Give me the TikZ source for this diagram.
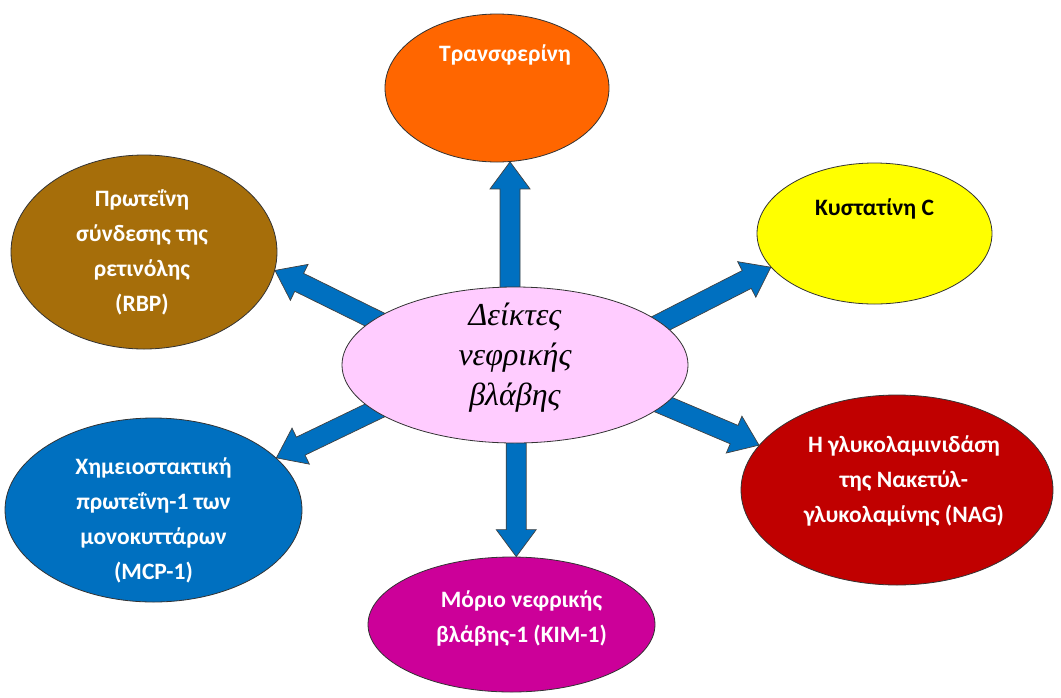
\documentclass[tikz,border=0pt]{standalone}
\usepackage{fontspec}
\setmainfont{Carlito}
\newfontfamily\ctrfont{Liberation Serif}
\usetikzlibrary{shapes.geometric,calc,backgrounds}
\definecolor{orgc}{HTML}{FF6600}
\definecolor{yelc}{HTML}{FFFF00}
\definecolor{redc}{HTML}{C00000}
\definecolor{magc}{HTML}{CC0099}
\definecolor{bluc}{HTML}{0070C0}
\definecolor{brnc}{HTML}{A66E0A}
\definecolor{pnkc}{HTML}{FFCCFF}
\definecolor{arrblue}{HTML}{0070C0}
\newcommand{\blockarrow}[2]{%
  \path (#1) coordinate (ba-s0) (#2) coordinate (ba-e);
  \path ($(ba-s0)!-25pt!(ba-e)$) coordinate (ba-s);
  \path ($(ba-e)!27pt!(ba-s)$) coordinate (ba-h);
  \draw[blockarr] ($(ba-s)!10pt!90:(ba-e)$) -- ($(ba-h)!10pt!90:(ba-e)$)
    -- ($(ba-h)!20pt!90:(ba-e)$) -- (ba-e) -- ($(ba-h)!20pt!-90:(ba-e)$)
    -- ($(ba-h)!10pt!-90:(ba-e)$) -- ($(ba-s)!10pt!-90:(ba-e)$) -- cycle;}
\begin{document}
\begin{tikzpicture}[x=1pt,y=-1pt,
  ell/.style={ellipse, draw=black!80, line width=0.8pt, inner sep=0pt},
  lbl/.style={align=center, font=\bfseries\fontsize{23.5}{35}\selectfont, text=white, inner sep=0pt},
  blockarr/.style={fill=arrblue, draw=black!75, line width=0.7pt, line join=miter}]
\useasboundingbox (0,0) rectangle (1061,697);
% ellipses
\node[ell, fill=pnkc, minimum width=346pt, minimum height=156pt] (c) at (515,365) {};
\node[ell, fill=orgc, minimum width=224pt, minimum height=148pt] (tr) at (497,88) {};
\node[ell, fill=yelc, minimum width=235pt, minimum height=141pt] (ye) at (874.5,233.5) {};
\node[ell, fill=brnc, minimum width=266pt, minimum height=194pt] (br) at (144,252) {};
\node[ell, fill=bluc, minimum width=297pt, minimum height=184pt] (bl) at (153.5,510) {};
\node[ell, fill=redc, minimum width=312pt, minimum height=190pt] (rd) at (897,490) {};
\node[ell, fill=magc, minimum width=287pt, minimum height=135pt] (mg) at (511.5,624.5) {};
% texts
\node[align=center, inner sep=0pt, font=\ctrfont\itshape\fontsize{32}{40}\selectfont] (ct) at ($(c)+(0,-7)$) {Δείκτες\\νεφρικής\\βλάβης};
\node[lbl] (trt) at ($(tr)+(8,-33)$) {Τρανσφερίνη};
\node[lbl, text=black] (yet) at ($(ye)+(0,-25)$) {Κυστατίνη C};
\node[lbl] (brt) at ($(br)+(-2,0)$) {Πρωτεΐνη\\σύνδεσης της\\ρετινόλης\\(RBP)};
\node[lbl] (blt) at ($(bl)+(0,10)$) {Χημειοστακτική\\πρωτεΐνη-1 των\\μονοκυττάρων\\(MCP-1)};
\node[lbl] (rdt) at ($(rd)+(7,-9)$) {Η γλυκολαμινιδάση\\της Νακετύλ-\\γλυκολαμίνης (NAG)};
\node[lbl] (mgt) at ($(mg)+(10,-6)$) {Μόριο νεφρικής\\βλάβης-1 (KIM-1)};
% arrows
\begin{pgfonlayer}{background}
\blockarrow{tr.-80 |- c.north}{tr.-80}
\blockarrow{mg.86 |- c.south}{mg.86}
\blockarrow{c.162}{br.-8}
\blockarrow{c.16}{ye.-162}
\blockarrow{c.-15}{rd.162}
\blockarrow{c.-162}{bl.23}
\end{pgfonlayer}
\end{tikzpicture}
\end{document}
